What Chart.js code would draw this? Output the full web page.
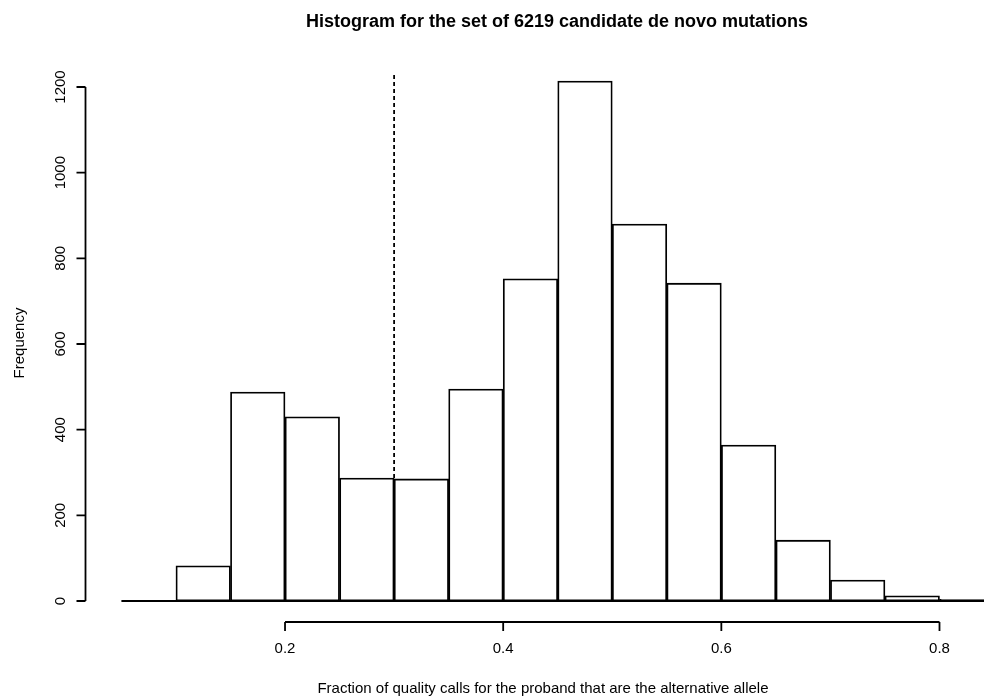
<!DOCTYPE html>
<html>
<head>
<meta charset="utf-8">
<script src="https://cdn.jsdelivr.net/npm/chart.js@4/dist/chart.umd.min.js"></script>
<style>
  html, body { margin: 0; padding: 0; background: #fff; }
  #wrap { width: 984px; height: 697px; }
</style>
</head>
<body>
<div id="wrap"><canvas id="hist" width="984" height="697"></canvas></div>
<script>
// histogram bins (left edges) and counts
var binEdges = [0.05, 0.10, 0.15, 0.20, 0.25, 0.30, 0.35, 0.40, 0.45, 0.50, 0.55, 0.60, 0.65, 0.70, 0.75, 0.80, 0.85];
var counts = [0, 82, 488, 430, 287, 285, 495, 752, 1214, 880, 742, 364, 142, 49, 12, 4];
var xTicks = [0.2, 0.4, 0.6, 0.8];
var yTicks = [0, 200, 400, 600, 800, 1000, 1200];
var cutoff = 0.3;

var titulo = 'Histogram for the set of 6219 candidate de novo mutations';
var xTitulo = 'Fraction of quality calls for the proband that are the alternative allele';
var yTitulo = 'Frequency';

var puntos = counts.map(function (c, i) {
    return { x: (binEdges[i] + binEdges[i + 1]) / 2, y: c };
});

var fuente = '"Liberation Sans", Arial, Helvetica, sans-serif';

// R style axes, drawn with the chart's own scales
var ejesR = {
    id: 'ejesR',
    afterDatasetsDraw: function (chart) {
        var ctx = chart.ctx;
        var xs = chart.scales.x;
        var ys = chart.scales.y;
        var area = chart.chartArea;
        var y0 = ys.getPixelForValue(0);

        ctx.save();
        ctx.strokeStyle = '#000';
        ctx.fillStyle = '#000';
        ctx.lineWidth = 1.8;

        // baseline under the bins
        ctx.beginPath();
        ctx.moveTo(xs.getPixelForValue(binEdges[0]), y0);
        ctx.lineTo(Math.min(xs.getPixelForValue(binEdges[binEdges.length - 1]), area.right), y0);
        ctx.stroke();

        // dashed cutoff line
        ctx.setLineDash([4, 3]);
        ctx.beginPath();
        ctx.moveTo(xs.getPixelForValue(cutoff), area.top);
        ctx.lineTo(xs.getPixelForValue(cutoff), y0);
        ctx.stroke();
        ctx.setLineDash([]);

        // x axis
        var yAx = y0 + 21;
        ctx.beginPath();
        ctx.moveTo(xs.getPixelForValue(xTicks[0]), yAx);
        ctx.lineTo(xs.getPixelForValue(xTicks[xTicks.length - 1]), yAx);
        xTicks.forEach(function (t) {
            var px = xs.getPixelForValue(t);
            ctx.moveTo(px, yAx);
            ctx.lineTo(px, yAx + 9);
        });
        ctx.stroke();
        ctx.font = '15px ' + fuente;
        ctx.textAlign = 'center';
        ctx.textBaseline = 'middle';
        xTicks.forEach(function (t) {
            ctx.fillText(t.toFixed(1), xs.getPixelForValue(t), yAx + 27);
        });

        // y axis
        var xAx = area.left - 25;
        ctx.beginPath();
        ctx.moveTo(xAx, ys.getPixelForValue(yTicks[0]));
        ctx.lineTo(xAx, ys.getPixelForValue(yTicks[yTicks.length - 1]));
        yTicks.forEach(function (t) {
            var py = ys.getPixelForValue(t);
            ctx.moveTo(xAx, py);
            ctx.lineTo(xAx - 9, py);
        });
        ctx.stroke();
        yTicks.forEach(function (t) {
            ctx.save();
            ctx.translate(xAx - 25, ys.getPixelForValue(t));
            ctx.rotate(-Math.PI / 2);
            ctx.fillText(String(t), 0, 0);
            ctx.restore();
        });

        // titles
        ctx.font = 'bold 18px ' + fuente;
        ctx.fillText(titulo, 557, 22);
        ctx.font = '15px ' + fuente;
        ctx.fillText(xTitulo, 543, 689);
        ctx.save();
        ctx.translate(20, 343);
        ctx.rotate(-Math.PI / 2);
        ctx.fillText(yTitulo, 0, 0);
        ctx.restore();
        ctx.restore();
    }
};

var gHist = new Chart(document.getElementById('hist'), {
    type: 'bar',
    data: {
        datasets: [{
            data: puntos,
            backgroundColor: '#fff',
            borderColor: '#000',
            borderWidth: 1.8,
            borderSkipped: false,
            barPercentage: 1,
            categoryPercentage: 1,
        }],
    },
    options: {
        responsive: false,
        animation: false,
        layout: {
            padding: { left: 110.5, right: 0, top: 75, bottom: 96 }
        },
        plugins: {
            legend: { display: false },
            tooltip: { enabled: false },
        },
        scales: {
            x: { type: 'linear', offset: false, min: 0.04, max: 0.8408, display: false },
            y: { type: 'linear', min: 0, max: 1228, display: false },
        },
    },
    plugins: [ejesR],
});
</script>
</body>
</html>
